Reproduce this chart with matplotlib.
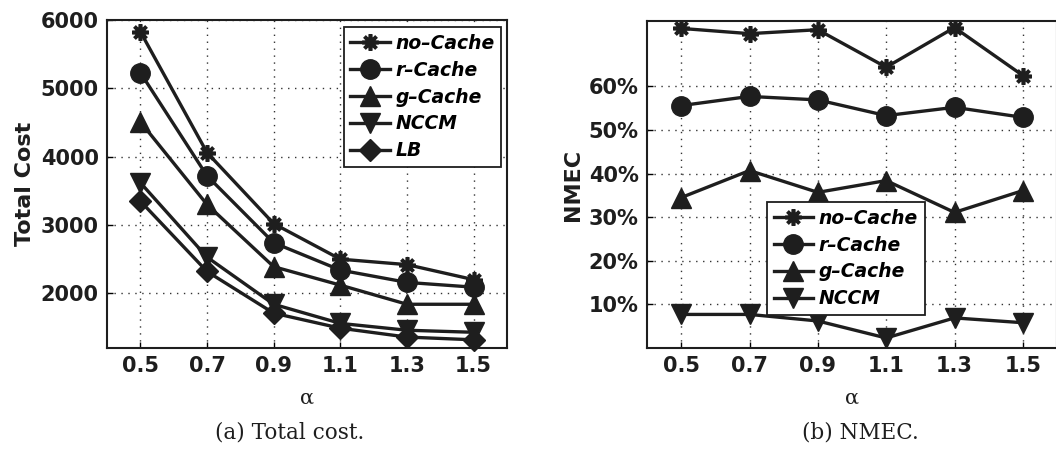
import matplotlib
matplotlib.use("Agg")
import matplotlib.pyplot as plt
from matplotlib.ticker import FuncFormatter

alpha = [0.5, 0.7, 0.9, 1.1, 1.3, 1.5]
xtick_labels = ["0.5", "0.7", "0.9", "1.1", "1.3", "1.5"]

# (a) Total cost
cost_no_cache = [5830, 4060, 3020, 2500, 2420, 2200]
cost_r_cache = [5230, 3720, 2740, 2340, 2160, 2090]
cost_g_cache = [4510, 3300, 2390, 2120, 1840, 1840]
cost_nccm = [3620, 2530, 1840, 1560, 1460, 1430]
cost_lb = [3350, 2320, 1710, 1490, 1360, 1320]
cost_yticks = [2000, 3000, 4000, 5000, 6000]

# (b) NMEC (%)
nmec_no_cache = [73.3, 72.1, 73.0, 64.4, 73.5, 62.5]
nmec_r_cache = [55.6, 57.7, 56.9, 53.3, 55.2, 52.9]
nmec_g_cache = [34.5, 40.7, 35.7, 38.4, 31.1, 36.1]
nmec_nccm = [7.7, 7.7, 6.2, 2.3, 6.9, 5.8]
nmec_yticks = [10, 20, 30, 40, 50, 60]

labels = ["no\u2013Cache", "r\u2013Cache", "g\u2013Cache", "NCCM", "LB"]
markers = [(8, 2, 0), "o", "^", "v", "D"]
msizes = [12, 14, 15, 15, 11]

W, H = 1056, 450
fig = plt.figure(figsize=(W / 100, H / 100), dpi=100)

def px_axes(left, top, right, bottom):
    return fig.add_axes([left / W, 1 - bottom / H, (right - left) / W, (bottom - top) / H])

sans = ["DejaVu Sans"]
ink = "#1e1e1e"

def style(ax):
    for s in ax.spines.values():
        s.set_linewidth(1.5)
        s.set_color(ink)
    ax.grid(True, color="#333333", linestyle=(0, (1, 4)), linewidth=1.0)
    ax.set_axisbelow(True)
    ax.tick_params(direction="in", length=4, width=1, pad=6, labelsize=15)
    for lab in ax.get_xticklabels() + ax.get_yticklabels():
        lab.set_fontweight("bold")
        lab.set_family(sans)
        lab.set_color(ink)

def draw(ax, series, n):
    for i in range(n):
        ax.plot(alpha, series[i], color=ink, linewidth=2.4,
                marker=markers[i], markersize=msizes[i], markerfacecolor=ink,
                markeredgecolor=ink,
                markeredgewidth=2.6 if i == 0 else 1.0,
                label=labels[i], clip_on=False, zorder=3)

legend_kw = dict(frameon=True, fancybox=False, edgecolor=ink, framealpha=1,
                 handlelength=2.1, handletextpad=0.3, borderpad=0.35,
                 labelspacing=0.42, borderaxespad=0,
                 prop={"family": sans, "weight": "bold", "style": "italic", "size": 13.5})

# Left axes
ax1 = px_axes(107, 20, 507, 348)
draw(ax1, [cost_no_cache, cost_r_cache, cost_g_cache, cost_nccm, cost_lb], 5)
ax1.set_xlim(0.4, 1.6)
ax1.set_ylim(1200, 6000)
ax1.set_xticks(alpha)
ax1.set_xticklabels(xtick_labels)
ax1.set_yticks(cost_yticks)
style(ax1)
ax1.set_ylabel("Total Cost", fontsize=16, fontweight="bold", family=sans, color=ink, labelpad=4)
ax1.set_xlabel("\u03b1", fontsize=15, family="DejaVu Serif", color=ink, labelpad=9)
leg1 = ax1.legend(loc="upper right", bbox_to_anchor=(0.985, 0.978), **legend_kw)
leg1.get_frame().set_linewidth(1.3)

# Right axes
ax2 = px_axes(647, 21, 1057, 348)
draw(ax2, [nmec_no_cache, nmec_r_cache, nmec_g_cache, nmec_nccm], 4)
ax2.set_xlim(0.4, 1.6)
ax2.set_ylim(0, 75)
ax2.set_xticks(alpha)
ax2.set_xticklabels(xtick_labels)
ax2.set_yticks(nmec_yticks)
ax2.yaxis.set_major_formatter(FuncFormatter(lambda v, p: f"{int(v)}%"))
style(ax2)
ax2.set_ylabel("NMEC", fontsize=16, fontweight="bold", family=sans, color=ink, labelpad=4)
ax2.set_xlabel("\u03b1", fontsize=15, family="DejaVu Serif", color=ink, labelpad=9)
leg2 = ax2.legend(loc="upper left", bbox_to_anchor=(0.293, 0.446), **legend_kw)
leg2.get_frame().set_linewidth(1.3)

# Captions
fig.text(290 / W, 1 - 433 / H, "(a) Total cost.", ha="center", va="center",
         fontsize=15.5, family="DejaVu Serif", color=ink)
fig.text(860 / W, 1 - 433 / H, "(b) NMEC.", ha="center", va="center",
         fontsize=15.5, family="DejaVu Serif", color=ink)

fig.savefig("out.png", dpi=100)
